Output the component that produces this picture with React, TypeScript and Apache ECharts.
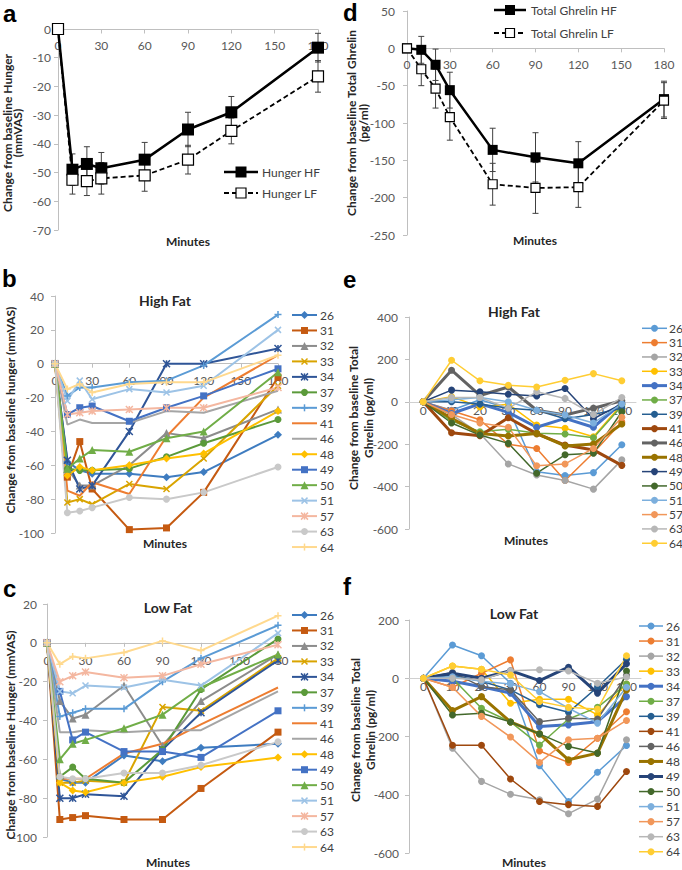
import React, { useEffect, useRef } from "react";
import * as echarts from "echarts";

const FONT = 'Lato, "Open Sans", "Liberation Sans", sans-serif';
const LETTER_FONT = '"Liberation Sans", Arial, sans-serif';

// ---------- data ----------
const minutes = [0, 10, 20, 30, 60, 90, 120, 180];
const minuteLabels = ["0", "10", "20", "30", "60", "90", "120", "180"];

// panel a: mean change in hunger (mmVAS)
const hungerHF = [0, -49, -47, -48.5, -45.5, -35, -29, -6.5];
const hungerHFErr = [0, 5.5, 6, 5.5, 6, 6, 5.5, 5];
const hungerLF = [0, -52.5, -53, -52, -51, -45.5, -35.5, -16.5];
const hungerLFErr = [0, 5, 5, 5.5, 5.5, 5, 4.5, 5.5];

// panel d: mean change in total ghrelin (pg/ml)
const ghrelinHF = [0, -2, -22, -56, -136, -146, -154, -68];
const ghrelinHFErr = [0, 18, 21, 24, 29, 33, 29, 24];
const ghrelinLF = [0, -28, -54, -92, -182, -187, -186, -70];
const ghrelinLFErr = [0, 22, 26, 31, 28, 34, 27, 24];

const subjects = ["26", "31", "32", "33", "34", "37", "39", "41", "46", "48", "49", "50", "51", "57", "63", "64"];

// panel b: individual hunger, high fat (rows follow subjects)
const hungerHighFat = [
  [0, -58, -63, -65, -65, -67, -64, -42],
  [0, -67, -46, -74, -98, -97, -76, -8],
  [0, -62, -72, -72, -60, -41, -44, -27],
  [0, -82, -80, -83, -71, -74, -56, -13],
  [0, -57, -74, -72, -40, 0, 0, 9],
  [0, -62, -63, -63, -62, -55, -47, -33],
  [0, -19, -14, -14, -11, -10, -1, 29],
  [0, -75, -78, -70, -77, -43, -20, 5],
  [0, -36, -33, -35, -35, -28, -29, -16],
  [0, -66, -61, -63, -60, -56, -53, -28],
  [0, -30, -26, -25, -34, -26, -19, -3],
  [0, -62, -56, -51, -52, -44, -40, -5],
  [0, -22, -10, -21, -15, -17, -13, 20],
  [0, -30, -29, -28, -27, -26, -26, -14],
  [0, -88, -87, -85, -79, -80, -76, -61],
  [0, -15, -12, -17, -12, -11, -11, 5],
];

// panel c: individual hunger, low fat
const hungerLowFat = [
  [0, -70, -72, -72, -58, -61, -54, -52],
  [0, -91, -90, -89, -91, -91, -75, -46],
  [0, -30, -39, -37, -22, -53, -30, -6],
  [0, -72, -72, -71, -72, -33, -35, -8],
  [0, -80, -80, -78, -79, -55, -36, -9],
  [0, -69, -64, -70, -72, -55, -24, 2],
  [0, -38, -36, -34, -34, -20, -8, 9],
  [0, -70, -70, -70, -57, -52, -42, -23],
  [0, -46, -46, -45, -46, -45, -45, -25],
  [0, -72, -76, -77, -72, -69, -64, -59],
  [0, -25, -50, -46, -56, -56, -59, -35],
  [0, -60, -52, -50, -44, -37, -23, -6],
  [0, -25, -26, -22, -23, -19, -22, 5],
  [0, -20, -17, -15, -18, -17, -11, -1],
  [0, -69, -70, -70, -67, -67, -63, -51],
  [0, -11, -7, -8, -5, 1, -4, 14],
];

// panel e: individual total ghrelin, high fat
const ghrelinHighFat = [
  [0, -40, 10, -30, -330, -348, -334, -203],
  [0, -42, -85, -200, -220, -371, -240, -95],
  [0, -60, -150, -293, -345, -371, -412, -274],
  [0, 24, -24, -11, -110, -125, -165, -11],
  [0, -55, -10, -50, -120, -78, -120, -5],
  [0, -90, -141, -130, -148, -152, -170, -20],
  [0, 0, -10, -30, -40, -80, -60, -30],
  [0, -146, -160, -75, -150, -204, -227, -300],
  [0, 149, 30, 70, -40, -62, -30, 5],
  [0, -78, -150, -161, -150, -208, -199, -105],
  [0, 55, 47, 36, 27, 63, -80, -10],
  [0, -100, -157, -196, -337, -250, -243, -47],
  [0, 10, 20, 0, -40, -62, -100, -10],
  [0, -60, -100, -120, -302, -293, -220, -73],
  [0, 20, 20, -30, 47, 16, -60, 20],
  [0, 196, 99, 78, 70, 102, 133, 99],
];

// panel f: individual total ghrelin, low fat
const ghrelinLowFat = [
  [0, 114, 77, -17, -300, -423, -323, -231],
  [0, -31, 17, 63, -250, -289, -206, -115],
  [0, -240, -354, -398, -417, -465, -415, -211],
  [0, 42, 31, -86, -72, -72, -126, -20],
  [0, -10, -29, -51, -166, -160, -149, -63],
  [0, 0, -103, -150, -229, -140, -100, -20],
  [0, 10, -10, -40, -91, -117, -30, 65],
  [0, -230, -230, -346, -423, -434, -440, -320],
  [0, 20, -29, -40, -149, -137, -140, 10],
  [0, -111, -63, -150, -191, -280, -257, -40],
  [0, 17, 0, 26, -8, 38, -51, 50],
  [0, -126, -120, -150, -191, -234, -257, 25],
  [0, 5, -10, -20, -46, -103, -154, -31],
  [0, -31, -131, -202, -289, -211, -206, -145],
  [0, 0, -5, 26, 29, 25, -17, 4],
  [0, 42, 31, 11, -80, -100, -106, 77],
];

// ---------- styles ----------
const hungerColors = ["#3E7CC0", "#C55A11", "#8C8C8C", "#D9A400", "#2F5597", "#5B9A3A", "#5B9BD5", "#ED7D31", "#A5A5A5", "#FFC000", "#4472C4", "#70AD47", "#9DC3E6", "#F4B7A0", "#C9C9C9", "#FFD98E"];
const hungerMarkers = ["diamond", "rect", "triangle", "x", "star", "circle", "plus", "none", "none", "diamond", "rect", "triangle", "x", "star", "circle", "plus"];
const markerSizes: Record<string, number> = { diamond: 8, rect: 7, triangle: 8, x: 6, star: 7, circle: 7, plus: 7, none: 0 };
const ghrelinColors = ["#5B9BD5", "#ED7D31", "#A5A5A5", "#FFC000", "#4472C4", "#70AD47", "#255E91", "#9E480E", "#636363", "#997300", "#264478", "#43682B", "#7CAFDD", "#F1975A", "#B7B7B7", "#FFCD33"];
const ghrelinThickE = ["34", "41", "46", "48"];
const ghrelinThickF = ["34", "48", "49"];

const SYM: Record<string, string> = {
  circle: "circle",
  rect: "rect",
  diamond: "diamond",
  triangle: "triangle",
  x: "path://M0,0L10,10M10,0L0,10",
  plus: "path://M5,0L5,10M0,5L10,5",
  star: "path://M0,0L10,10M10,0L0,10M5,0L5,10",
  none: "none",
};
const isPathSym = (m: string) => m === "x" || m === "plus" || m === "star";

const AXIS_COLOR = "#BFBFBF";
const LABEL_COLOR = "#595959";

function txt(text: string, x: number, y: number, o: any = {}) {
  return {
    type: "text",
    x,
    y,
    rotation: o.rot || 0,
    silent: true,
    style: {
      text,
      fill: o.color || "#262626",
      font: `${o.weight || "normal"} ${o.size || 12}px ${o.family || FONT}`,
      align: o.align || "center",
      verticalAlign: o.va || "middle",
      lineHeight: o.lh,
    },
  };
}

function markerEls(mk: string, cx: number, cy: number, s: number, color: string, fill?: string) {
  const h = s / 2;
  const st = { fill: fill ?? color, stroke: color, lineWidth: fill ? 1.2 : 0 };
  const ln = (x1: number, y1: number, x2: number, y2: number) => ({ type: "line", shape: { x1, y1, x2, y2 }, style: { stroke: color, lineWidth: 1.5 } });
  switch (mk) {
    case "circle":
      return [{ type: "circle", shape: { cx, cy, r: h }, style: st }];
    case "rect":
      return [{ type: "rect", shape: { x: cx - h, y: cy - h, width: s, height: s }, style: st }];
    case "diamond":
      return [{ type: "polygon", shape: { points: [[cx, cy - h], [cx + h, cy], [cx, cy + h], [cx - h, cy]] }, style: st }];
    case "triangle":
      return [{ type: "polygon", shape: { points: [[cx, cy - h], [cx + h, cy + h], [cx - h, cy + h]] }, style: st }];
    case "x":
      return [ln(cx - h, cy - h, cx + h, cy + h), ln(cx + h, cy - h, cx - h, cy + h)];
    case "plus":
      return [ln(cx, cy - h, cx, cy + h), ln(cx - h, cy, cx + h, cy)];
    case "star":
      return [ln(cx - h, cy - h, cx + h, cy + h), ln(cx + h, cy - h, cx - h, cy + h), ln(cx, cy - h, cx, cy + h)];
    default:
      return [];
  }
}

function legendItem(label: string, x1: number, x2: number, tx: number, y: number, color: string, lw: number, mk: string, ms: number, dash?: number[], fill?: string, fs = 12) {
  return [
    { type: "line", silent: true, shape: { x1, y1: y, x2, y2: y }, style: { stroke: color, lineWidth: lw, lineDash: dash } },
    ...markerEls(mk, (x1 + x2) / 2, y, ms, color, fill),
    txt(label, tx, y, { align: "left", size: fs, color: "#404040" }),
  ];
}

// x axis drawn at the zero line: a bottom axis shifted up by a (negative) offset.
function valueX(gi: number, margin: number, offset: number) {
  return {
    type: "value",
    gridIndex: gi,
    position: "bottom",
    offset,
    min: 0,
    max: 180,
    interval: 30,
    axisLine: { show: true, onZero: false, lineStyle: { color: AXIS_COLOR } },
    axisTick: { show: true, length: 4, lineStyle: { color: AXIS_COLOR } },
    splitLine: { show: false },
    axisLabel: { color: LABEL_COLOR, fontSize: 12, fontFamily: FONT, margin },
  };
}
function catX(gi: number, margin: number, offset: number) {
  return {
    type: "category",
    gridIndex: gi,
    position: "bottom",
    offset,
    data: minuteLabels,
    axisLine: { show: true, onZero: false, lineStyle: { color: "#D0D0D0" } },
    axisTick: { show: false },
    splitLine: { show: false },
    axisLabel: { color: LABEL_COLOR, fontSize: 12, fontFamily: FONT, margin, interval: 0 },
  };
}
function valueY(gi: number, min: number, max: number, interval: number, margin: number) {
  return {
    type: "value",
    gridIndex: gi,
    min,
    max,
    interval,
    axisLine: { show: true, lineStyle: { color: AXIS_COLOR } },
    axisTick: { show: true, length: 4, lineStyle: { color: AXIS_COLOR } },
    splitLine: { show: false },
    axisLabel: { color: LABEL_COLOR, fontSize: 12, fontFamily: FONT, margin },
  };
}

function errorSeries(gi: number, means: number[], errs: number[]) {
  const data = minutes.map((m, i) => [m, means[i] - errs[i], means[i] + errs[i]]).filter((_, i) => errs[i] > 0);
  return {
    type: "custom",
    xAxisIndex: gi,
    yAxisIndex: gi,
    silent: true,
    z: 1,
    data,
    renderItem: (params: any, api: any) => {
      const x = api.value(0);
      const lo = api.coord([x, api.value(1)]);
      const hi = api.coord([x, api.value(2)]);
      const c = 3;
      const style = { stroke: "#404040", lineWidth: 1 };
      return {
        type: "group",
        children: [
          { type: "line", shape: { x1: lo[0], y1: lo[1], x2: hi[0], y2: hi[1] }, style },
          { type: "line", shape: { x1: lo[0] - c, y1: lo[1], x2: lo[0] + c, y2: lo[1] }, style },
          { type: "line", shape: { x1: hi[0] - c, y1: hi[1], x2: hi[0] + c, y2: hi[1] }, style },
        ],
      };
    },
  };
}

function meanSeries(gi: number, name: string, vals: number[], hf: boolean, size: number) {
  return {
    type: "line",
    name,
    xAxisIndex: gi,
    yAxisIndex: gi,
    data: minutes.map((m, i) => [m, vals[i]]),
    symbol: "rect",
    symbolSize: size,
    z: 3,
    lineStyle: hf ? { color: "#000", width: 2.5 } : { color: "#000", width: 1.8, type: [5, 3] },
    itemStyle: hf ? { color: "#000", borderColor: "#000", borderWidth: 0 } : { color: "#fff", borderColor: "#000", borderWidth: 1.2 },
  };
}

function hungerSeries(gi: number, prefix: string, rows: number[][]) {
  return subjects.map((s, k) => {
    const mk = hungerMarkers[k];
    const col = hungerColors[k];
    return {
      type: "line",
      name: prefix + s,
      xAxisIndex: gi,
      yAxisIndex: gi,
      data: minutes.map((m, i) => [m, rows[k][i]]),
      symbol: SYM[mk],
      symbolSize: markerSizes[mk],
      showSymbol: mk !== "none",
      z: 2,
      lineStyle: { color: col, width: 2 },
      itemStyle: { color: col, borderColor: col, borderWidth: isPathSym(mk) ? 1.5 : 0 },
    };
  });
}

function ghrelinSeries(gi: number, prefix: string, rows: number[][], thick: string[]) {
  return subjects.map((s, k) => ({
    type: "line",
    name: prefix + s,
    xAxisIndex: gi,
    yAxisIndex: gi,
    data: rows[k],
    symbol: "circle",
    symbolSize: 7,
    z: 2,
    lineStyle: { color: ghrelinColors[k], width: thick.includes(s) ? 3 : 1.5 },
    itemStyle: { color: ghrelinColors[k] },
  }));
}

function buildOption() {
  const g: any[] = [];
  const letter = { align: "left", size: 24, weight: "bold", family: LETTER_FONT, color: "#000", lh: 24 };
  g.push(txt("a", 3, 13, letter));
  g.push(txt("b", 2, 278, letter));
  g.push(txt("c", 3, 588, letter));
  g.push(txt("d", 343, 12, letter));
  g.push(txt("e", 343, 279, letter));
  g.push(txt("f", 343, 586, letter));

  // y axis names
  const R = Math.PI / 2;
  g.push(txt("Change from baseline Hunger\n(mmVAS)", 12, 133, { rot: R, weight: "bold", lh: 10 }));
  g.push(txt("Change from baseline hunger (mmVAS)", 10, 410, { rot: R, weight: "bold" }));
  g.push(txt("Change from baseline Hunger (mmVAS)", 10, 735, { rot: R, weight: "bold" }));
  g.push(txt("Change from baseline Total Ghrelin\n(pg/ml)", 357, 123, { rot: R, weight: "bold", lh: 12 }));
  g.push(txt("Change from baseline Total\nGhrelin (pg/ml)", 361, 418, { rot: R, weight: "bold", lh: 15 }));
  g.push(txt("Change from baseline Total\nGhrelin (pg/ml)", 363, 730, { rot: R, weight: "bold", lh: 15 }));

  // x axis names
  g.push(txt("Minutes", 188, 241, { weight: "bold" }));
  g.push(txt("Minutes", 165, 543, { weight: "bold" }));
  g.push(txt("Minutes", 168, 862, { weight: "bold" }));
  g.push(txt("Minutes", 535, 240, { weight: "bold" }));
  g.push(txt("Minutes", 526, 540, { weight: "bold" }));
  g.push(txt("Minutes", 524, 862, { weight: "bold" }));

  // titles
  g.push(txt("High Fat", 165, 300, { weight: "bold", size: 14 }));
  g.push(txt("Low Fat", 168, 607, { weight: "bold", size: 14 }));
  g.push(txt("High Fat", 514, 311, { weight: "bold", size: 14 }));
  g.push(txt("Low Fat", 514, 613, { weight: "bold", size: 14 }));

  // legends a & d
  g.push(...legendItem("Hunger HF", 224, 258, 262, 172, "#000", 2.5, "rect", 11));
  g.push(...legendItem("Hunger LF", 224, 258, 262, 193, "#000", 1.8, "rect", 10, [5, 3], "#fff"));
  g.push(...legendItem("Total Ghrelin HF", 494, 526, 531, 10, "#000", 2.5, "rect", 10));
  g.push(...legendItem("Total Ghrelin LF", 494, 526, 531, 33, "#000", 1.8, "rect", 9, [5, 3], "#fff"));

  // legends b, c
  subjects.forEach((s, k) => {
    const mk = hungerMarkers[k];
    g.push(...legendItem(s, 292, 317, 320, 315 + k * 15.47, hungerColors[k], 2, mk, markerSizes[mk]));
    g.push(...legendItem(s, 292, 317, 320, 615 + k * 15.47, hungerColors[k], 2, mk, markerSizes[mk]));
  });
  // legends e, f
  subjects.forEach((s, k) => {
    g.push(...legendItem(s, 642, 667, 669, 328.3 + k * 14.33, ghrelinColors[k], ghrelinThickE.includes(s) ? 3 : 1.5, "circle", 7));
    g.push(...legendItem(s, 639, 663, 666, 626 + k * 15.05, ghrelinColors[k], ghrelinThickF.includes(s) ? 3 : 1.5, "circle", 7));
  });

  return {
    animation: false,
    backgroundColor: "#fff",
    textStyle: { fontFamily: FONT },
    grid: [
      { left: 58, top: 29, width: 260, height: 201 },
      { left: 55, top: 296, width: 223, height: 237 },
      { left: 47, top: 604, width: 231, height: 233 },
      { left: 407, top: 11, width: 257, height: 224 },
      { left: 409, top: 317, width: 227, height: 212 },
      { left: 409, top: 620, width: 232, height: 233 },
    ],
    xAxis: [
      valueX(0, 10, -200.5),
      valueX(1, 11, -169.3),
      valueX(2, 12, -194.2),
      valueX(3, 10, -186.67),
      catX(4, 3, -127.2),
      catX(5, 2, -174.75),
    ],
    yAxis: [
      valueY(0, -70, 0, 10, 7),
      valueY(1, -100, 40, 20, 11),
      valueY(2, -100, 20, 20, 10),
      valueY(3, -250, 50, 50, 12),
      valueY(4, -600, 400, 200, 11),
      valueY(5, -600, 200, 200, 10),
    ],
    graphic: g,
    series: [
      errorSeries(0, hungerHF, hungerHFErr),
      errorSeries(0, hungerLF, hungerLFErr),
      meanSeries(0, "Hunger HF", hungerHF, true, 12),
      meanSeries(0, "Hunger LF", hungerLF, false, 11),
      errorSeries(3, ghrelinHF, ghrelinHFErr),
      errorSeries(3, ghrelinLF, ghrelinLFErr),
      meanSeries(3, "Total Ghrelin HF", ghrelinHF, true, 10),
      meanSeries(3, "Total Ghrelin LF", ghrelinLF, false, 9),
      ...hungerSeries(1, "b", hungerHighFat),
      ...hungerSeries(2, "c", hungerLowFat),
      ...ghrelinSeries(4, "e", ghrelinHighFat, ghrelinThickE),
      ...ghrelinSeries(5, "f", ghrelinLowFat, ghrelinThickF),
    ],
  };
}

export default function App() {
  const ref = useRef<HTMLDivElement>(null);
  useEffect(() => {
    const chart = echarts.init(ref.current!, null, { renderer: "svg" });
    chart.setOption(buildOption() as any);
    return () => chart.dispose();
  }, []);
  return <div ref={ref} style={{ position: "absolute", left: 0, top: 0, width: 682, height: 870 }} />;
}
